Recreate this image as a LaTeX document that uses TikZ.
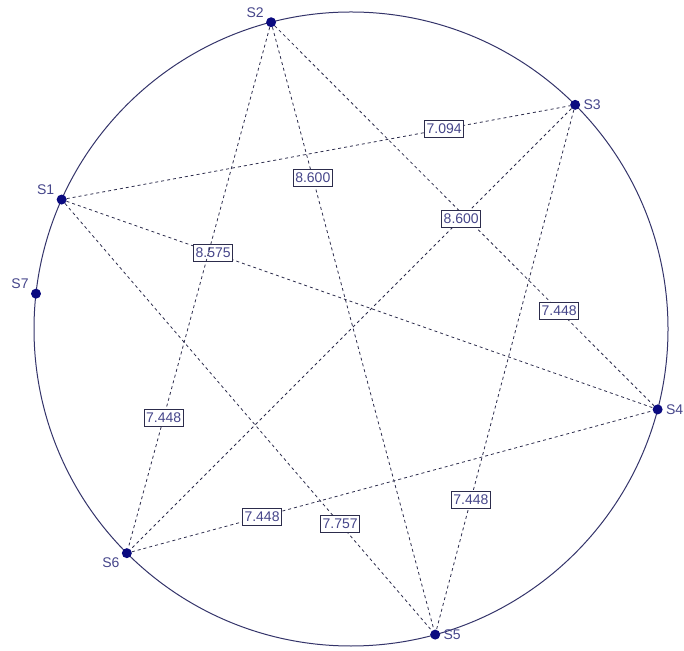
\documentclass[tikz,border=0pt]{standalone}
\usepackage{fontspec}
\setmainfont{Liberation Sans}
\definecolor{Navy}{HTML}{0A0A80}
\definecolor{Ink}{HTML}{45458A}
\definecolor{Rim}{HTML}{34346A}
\definecolor{Link}{HTML}{2C2C4C}
\usetikzlibrary{positioning, calc}
\tikzset{
  site/.style={circle, fill=Navy, inner sep=0pt, minimum size=10pt},
  tag/.style={font=\fontsize{14}{16}\selectfont, text=Ink, inner sep=1pt},
  dist/.style={
    rectangle, draw=Link, fill=white, solid, line width=0.9pt,
    font=\fontsize{14}{16}\selectfont, text=Ink,
    inner xsep=2pt, inner ysep=3.5pt
  },
  link/.style={draw=Link, line width=0.8pt, dash pattern=on 3pt off 3pt},
}

\begin{document}
\begin{tikzpicture}[x=1pt, y=1pt, label distance=2pt]
\useasboundingbox (0,0) rectangle (684,650);

% the ring
\coordinate (c) at (351,321);
\draw[Rim, line width=1pt] (c) circle (317);

% sites on the ring
\node[site, label={[tag]150:S1}] (s1) at ($(c)+(155.9:317)$) {};
\node[site, label={[tag]150:S2}] (s2) at ($(c)+(104.6:317)$) {};
\node[site, label={[tag]0:S3}]   (s3) at ($(c)+(45:317)$) {};
\node[site, label={[tag]0:S4}]   (s4) at ($(c)+(-14.7:317)$) {};
\node[site, label={[tag]0:S5}]   (s5) at ($(c)+(-74.6:317)$) {};
\node[site, label={[tag]210:S6}] (s6) at ($(c)+(-135:317)$) {};
\node[site, label={[tag]150:S7}] (s7) at ($(c)+(173.6:317)$) {};

% distances
\draw[link] (s1) -- node[dist, pos=0.75] {7.094} (s3);
\draw[link] (s1) -- node[dist, pos=0.25] {8.575} (s4);
\draw[link] (s1) -- node[dist, pos=0.75] {7.757} (s5);
\draw[link] (s2) -- node[dist, pos=0.75] {7.448} (s4);
\draw[link] (s2) -- node[dist, pos=0.25] {8.600} (s5);
\draw[link] (s2) -- node[dist, pos=0.75] {7.448} (s6);
\draw[link] (s3) -- node[dist, pos=0.75] {7.448} (s5);
\draw[link] (s3) -- node[dist, pos=0.25] {8.600} (s6);
\draw[link] (s6) -- node[dist, pos=0.25] {7.448} (s4);

\end{tikzpicture}
\end{document}
